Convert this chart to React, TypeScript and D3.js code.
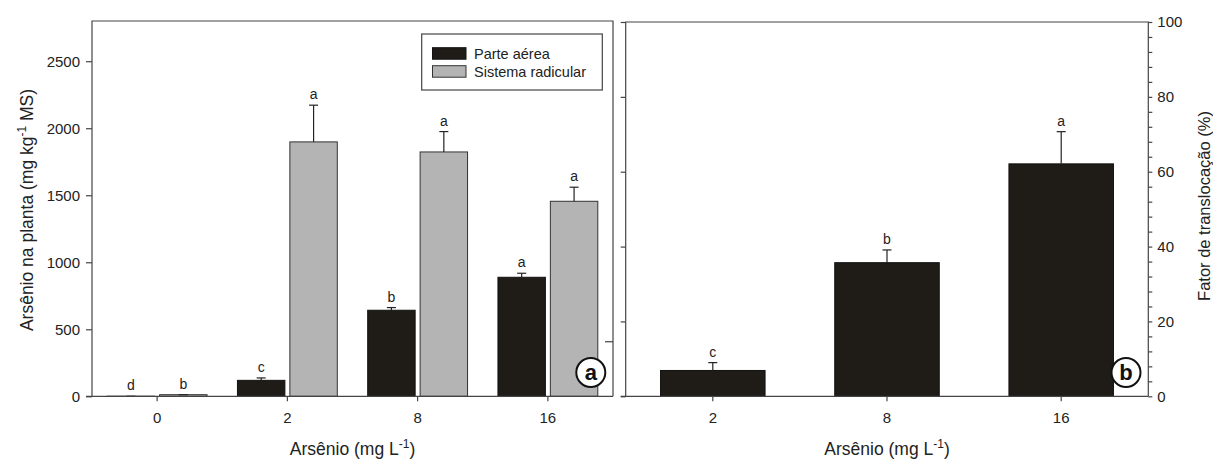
import React, { useRef, useEffect } from "react";
import * as d3 from "d3";

const doses = ["0", "2", "8", "16"];
const parteAerea = [0.5, 119, 642, 888];
const parteAereaErr = [0, 18, 20, 30];
const parteAereaLetras = ["d", "c", "b", "a"];
const sistemaRadicular = [12, 1898, 1823, 1455];
const sistemaRadicularErr = [0, 274, 152, 105];
const sistemaRadicularLetras = ["b", "a", "a", "a"];
const yTicksA = [0, 500, 1000, 1500, 2000, 2500];

const dosesB = ["2", "8", "16"];
const fatorTranslocacao = [6.9, 35.7, 62.1];
const fatorErr = [2.1, 3.4, 8.6];
const fatorLetras = ["c", "b", "a"];
const yTicksB = [0, 20, 40, 60, 80, 100];

const series = ["Parte aérea", "Sistema radicular"];

const FONT = "'Liberation Sans', Arial, sans-serif";
const BLACK = "#1f1c18";
const GREY = "#b4b4b4";
const LINE = "#444";
const TEXT = "#222";

const App = () => {
  const ref = useRef<SVGSVGElement>(null);

  useEffect(() => {
    const svg = d3.select(ref.current);
    svg.selectAll("*").remove();
    svg.attr("font-family", FONT);

    // ---------- panel a ----------
    const aLeft = 92, aRight = 613, top = 21, base = 396.3;
    const xA = d3.scaleBand().domain(doses).range([aLeft, aRight]).padding(0);
    const xSub = d3.scaleBand().domain(series).range([0, xA.bandwidth()])
      .paddingInner(0.095).paddingOuter(0.29);
    const yA = d3.scaleLinear().domain([0, 2800]).range([base, top]);

    const gA = svg.append("g");

    const groups = [
      { name: series[0], vals: parteAerea, err: parteAereaErr, let: parteAereaLetras, fill: BLACK, stroke: "#111" },
      { name: series[1], vals: sistemaRadicular, err: sistemaRadicularErr, let: sistemaRadicularLetras, fill: GREY, stroke: "#333" },
    ];

    groups.forEach((s) => {
      const items = doses.map((d, i) => ({ d, v: s.vals[i], e: s.err[i], l: s.let[i] }));
      const cx = (d: string) => (xA(d) as number) + (xSub(s.name) as number) + xSub.bandwidth() / 2;
      gA.append("g").selectAll("rect").data(items).enter().append("rect")
        .attr("x", (d) => (xA(d.d) as number) + (xSub(s.name) as number))
        .attr("y", (d) => yA(d.v))
        .attr("width", xSub.bandwidth())
        .attr("height", (d) => base - yA(d.v))
        .attr("fill", s.fill).attr("stroke", s.stroke).attr("stroke-width", 1);
      const eg = gA.append("g").attr("stroke", "#222").attr("stroke-width", 1.2);
      eg.selectAll("line.v").data(items).enter().append("line")
        .attr("x1", (d) => cx(d.d)).attr("x2", (d) => cx(d.d))
        .attr("y1", (d) => yA(d.v)).attr("y2", (d) => yA(d.v + d.e));
      eg.selectAll("line.c").data(items).enter().append("line")
        .attr("x1", (d) => cx(d.d) - 4.5).attr("x2", (d) => cx(d.d) + 4.5)
        .attr("y1", (d) => yA(d.v + d.e)).attr("y2", (d) => yA(d.v + d.e));
      gA.append("g").selectAll("text").data(items).enter().append("text")
        .attr("x", (d) => cx(d.d)).attr("y", (d) => yA(d.v + d.e) - 6)
        .attr("text-anchor", "middle").attr("font-size", 14).attr("fill", TEXT)
        .text((d) => d.l);
    });

    // frame a
    const fa = gA.append("g").attr("stroke", LINE).attr("stroke-width", 1.2).attr("fill", "none");
    fa.append("path").attr("d", `M${aLeft},${base}V${top}H${aRight}V${base}`);
    fa.append("line").attr("x1", aLeft - 6).attr("x2", aRight).attr("y1", base).attr("y2", base);
    fa.append("line").attr("x1", aRight - 8).attr("x2", aRight).attr("y1", yA(407)).attr("y2", yA(407));

    const axA = gA.append("g").attr("transform", `translate(${aLeft},0)`)
      .call(d3.axisLeft(yA).tickValues(yTicksA).tickSize(6).tickPadding(6).tickFormat(d3.format("d")));
    const axAx = gA.append("g").attr("transform", `translate(0,${base})`)
      .call(d3.axisBottom(xA).tickSize(5).tickPadding(11));
    [axA, axAx].forEach((ax) => {
      ax.select(".domain").remove();
      ax.attr("font-family", FONT).attr("font-size", 15);
      ax.selectAll("line").attr("stroke", LINE).attr("stroke-width", 1.2);
      ax.selectAll("text").attr("fill", TEXT);
    });

    // legend
    const lg = gA.append("g");
    lg.append("rect").attr("x", 421.7).attr("y", 34).attr("width", 180.6).attr("height", 56)
      .attr("fill", "#fff").attr("stroke", LINE).attr("stroke-width", 1.2);
    groups.forEach((s, i) => {
      lg.append("rect").attr("x", 432.5).attr("y", 47.7 + i * 18).attr("width", 33.5).attr("height", 11.5)
        .attr("fill", s.fill).attr("stroke", s.stroke);
      lg.append("text").attr("x", 474).attr("y", 58.5 + i * 18.3).attr("font-size", 14.5)
        .attr("fill", TEXT).text(s.name);
    });

    // titles a
    const yt = gA.append("text").attr("transform", "translate(33,210) rotate(-90)")
      .attr("text-anchor", "middle").attr("font-size", 17.5).attr("fill", TEXT);
    yt.append("tspan").text("Arsênio na planta (mg kg");
    yt.append("tspan").attr("font-size", 12).attr("dy", -7).text("-1");
    yt.append("tspan").attr("dy", 7).text(" MS)");

    const xt = gA.append("text").attr("x", (aLeft + aRight) / 2).attr("y", 455)
      .attr("text-anchor", "middle").attr("font-size", 17.5).attr("fill", TEXT);
    xt.append("tspan").text("Arsênio (mg L");
    xt.append("tspan").attr("font-size", 12).attr("dy", -7).text("-1");
    xt.append("tspan").attr("dy", 7).text(")");

    const circ = (g: any, cx: number, cy: number, t: string) => {
      g.append("circle").attr("cx", cx).attr("cy", cy).attr("r", 14.5)
        .attr("fill", "#fff").attr("stroke", "#111").attr("stroke-width", 2);
      g.append("text").attr("x", cx).attr("y", cy + 7.5).attr("text-anchor", "middle")
        .attr("font-size", 22).attr("font-weight", "bold").attr("fill", "#111").text(t);
    };
    circ(gA, 590.8, 372.5, "a");

    // ---------- panel b ----------
    const bLeft = 625.7, bRight = 1148.3, topB = 22;
    const xB = d3.scaleBand().domain(dosesB).range([bLeft, bRight]).paddingInner(0.4).paddingOuter(0.2);
    const yB = d3.scaleLinear().domain([0, 100]).range([base, topB]);
    const gB = svg.append("g");
    const itemsB = dosesB.map((d, i) => ({ d, v: fatorTranslocacao[i], e: fatorErr[i], l: fatorLetras[i] }));
    const cxB = (d: string) => (xB(d) as number) + xB.bandwidth() / 2;

    gB.append("g").selectAll("rect").data(itemsB).enter().append("rect")
      .attr("x", (d) => xB(d.d) as number).attr("y", (d) => yB(d.v))
      .attr("width", xB.bandwidth()).attr("height", (d) => base - yB(d.v))
      .attr("fill", BLACK).attr("stroke", "#111");
    const ebB = gB.append("g").attr("stroke", "#222").attr("stroke-width", 1.2);
    ebB.selectAll("line.v").data(itemsB).enter().append("line")
      .attr("x1", (d) => cxB(d.d)).attr("x2", (d) => cxB(d.d))
      .attr("y1", (d) => yB(d.v)).attr("y2", (d) => yB(d.v + d.e));
    ebB.selectAll("line.c").data(itemsB).enter().append("line")
      .attr("x1", (d) => cxB(d.d) - 4.5).attr("x2", (d) => cxB(d.d) + 4.5)
      .attr("y1", (d) => yB(d.v + d.e)).attr("y2", (d) => yB(d.v + d.e));
    gB.append("g").selectAll("text").data(itemsB).enter().append("text")
      .attr("x", (d) => cxB(d.d)).attr("y", (d) => yB(d.v + d.e) - 6)
      .attr("text-anchor", "middle").attr("font-size", 14).attr("fill", TEXT).text((d) => d.l);

    const fb = gB.append("g").attr("stroke", LINE).attr("stroke-width", 1.2).attr("fill", "none");
    fb.append("path").attr("d", `M${bLeft},${base}V${topB}H${bRight}V${base}`);
    fb.append("line").attr("x1", bLeft - 5).attr("x2", bRight).attr("y1", base).attr("y2", base);

    const axBl = gB.append("g").attr("transform", `translate(${bLeft},0)`)
      .call(d3.axisLeft(yB).tickValues(yTicksB).tickSize(5).tickFormat(() => ""));
    const axBr = gB.append("g").attr("transform", `translate(${bRight},0)`)
      .call(d3.axisRight(yB).tickValues(yTicksB).tickSize(4).tickPadding(5));
    const axBm = gB.append("g").attr("transform", `translate(${bRight},0)`)
      .call(d3.axisRight(yB).tickValues(d3.range(0, 101, 4).filter((v) => v % 20 !== 0)).tickSize(4).tickFormat(() => ""));
    const axBx = gB.append("g").attr("transform", `translate(0,${base})`)
      .call(d3.axisBottom(xB).tickSize(5).tickPadding(11));
    [axBl, axBr, axBm, axBx].forEach((ax) => {
      ax.select(".domain").remove();
      ax.attr("font-family", FONT).attr("font-size", 15);
      ax.selectAll("line").attr("stroke", LINE).attr("stroke-width", 1.2);
      ax.selectAll("text").attr("fill", TEXT);
    });

    const xtB = gB.append("text").attr("x", (bLeft + bRight) / 2).attr("y", 455)
      .attr("text-anchor", "middle").attr("font-size", 17.5).attr("fill", TEXT);
    xtB.append("tspan").text("Arsênio (mg L");
    xtB.append("tspan").attr("font-size", 12).attr("dy", -7).text("-1");
    xtB.append("tspan").attr("dy", 7).text(")");

    gB.append("text").attr("transform", "translate(1210,206) rotate(-90)")
      .attr("text-anchor", "middle").attr("font-size", 16.5).attr("fill", TEXT)
      .text("Fator de translocação (%)");

    circ(gB, 1126, 372.5, "b");
  }, []);

  return (
    <div style={{ position: "fixed", left: 0, top: 0, width: 1213, height: 459, background: "#fff" }}>
      <svg ref={ref} width={1213} height={459} />
    </div>
  );
};

export default App;
